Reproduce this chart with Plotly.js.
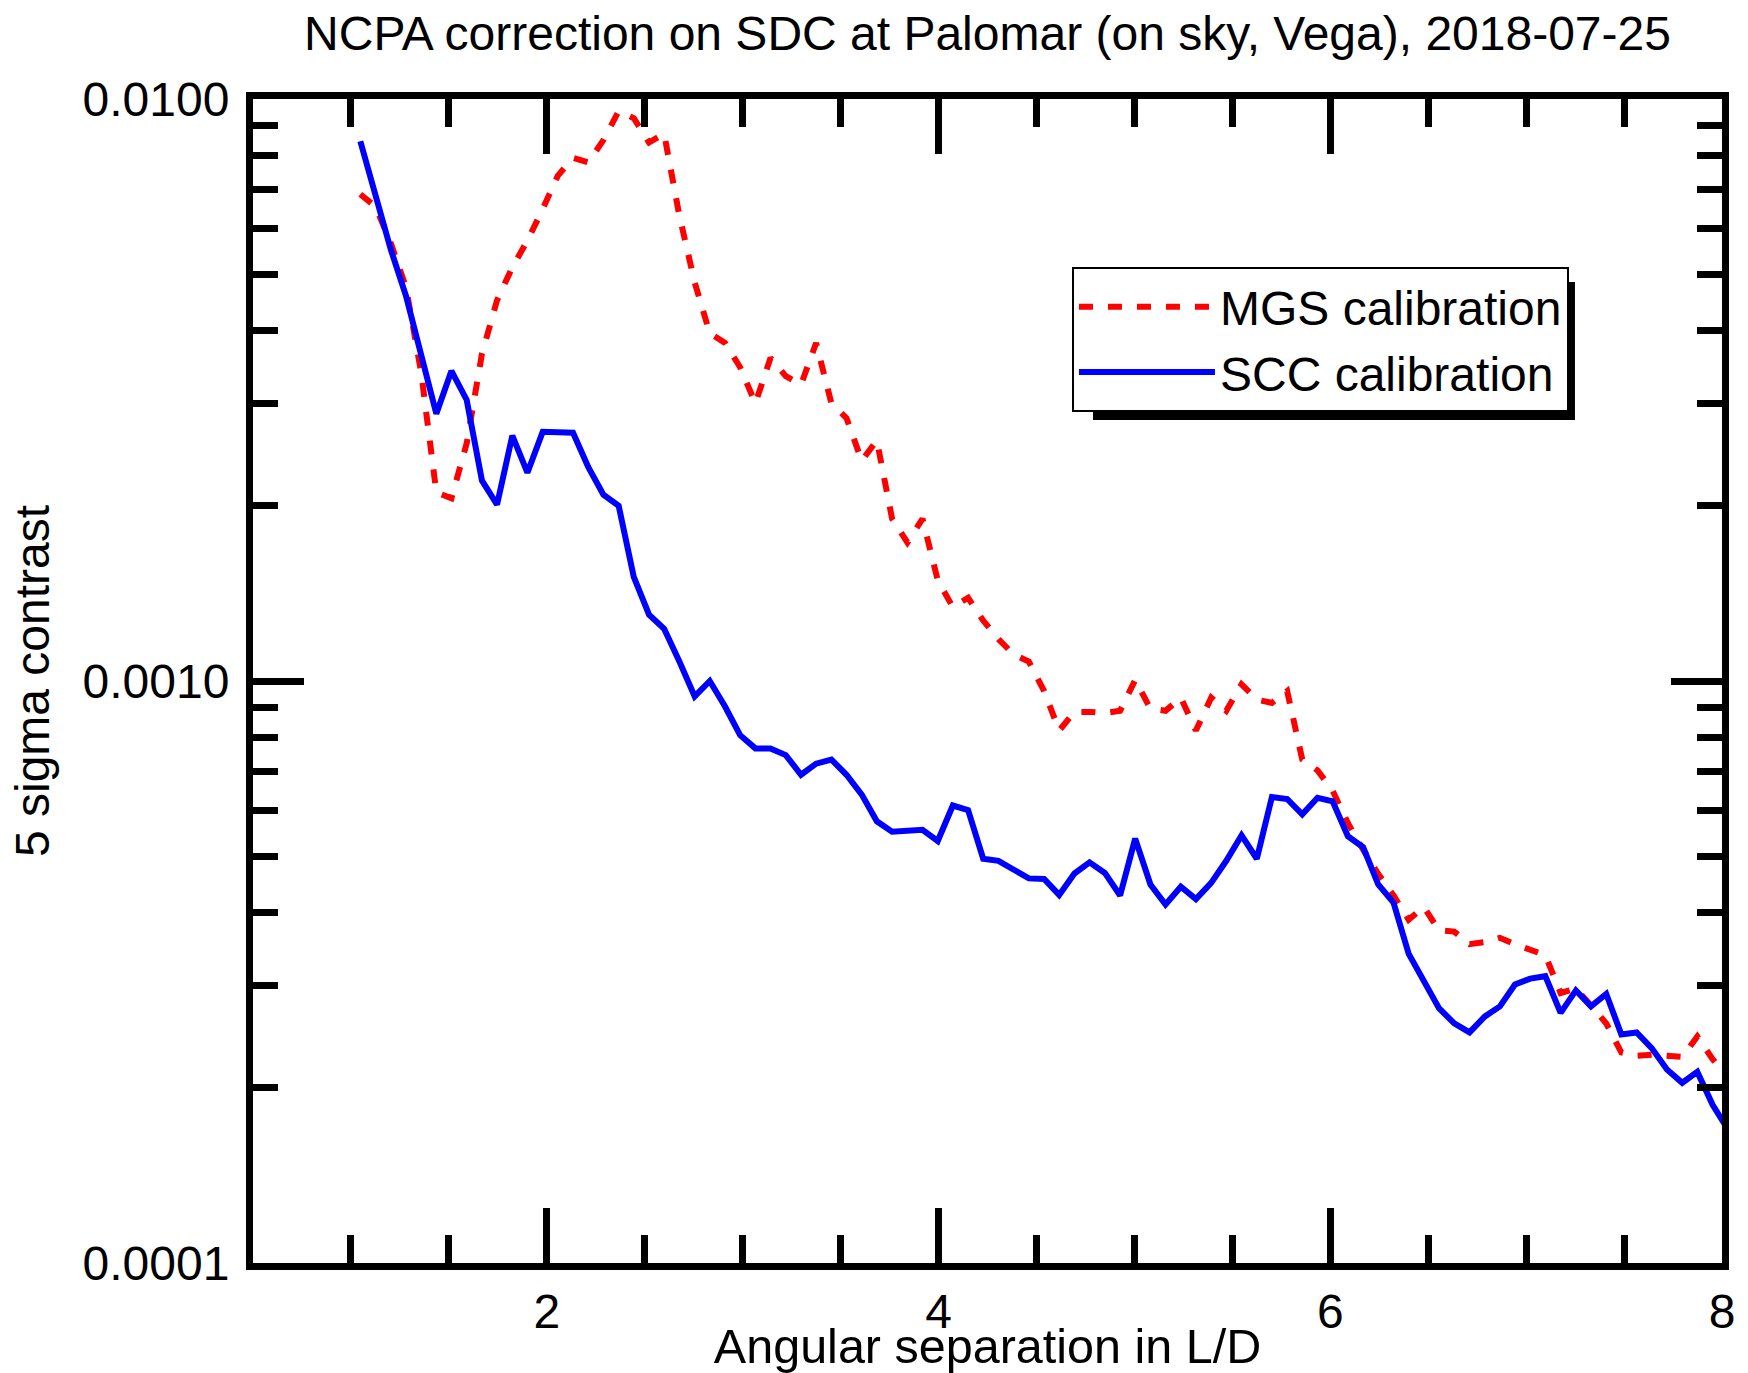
<!DOCTYPE html>
<html>
<head>
<meta charset="utf-8">
<script src="https://cdn.plot.ly/plotly-3.0.1.min.js"></script>
<style>
  html, body { margin: 0; padding: 0; background: white; }
  #chart { width: 1748px; height: 1373px; }
</style>
</head>
<body>
<div id="chart"></div>
<script>
// angular separation (L/D), one value per profile sample
var separation = [
  1.048, 1.126, 1.203, 1.281, 1.358, 1.436, 1.513, 1.591, 1.669, 1.746,
  1.824, 1.901, 1.979, 2.056, 2.134, 2.212, 2.289, 2.367, 2.444, 2.522,
  2.599, 2.677, 2.755, 2.832, 2.910, 2.987, 3.065, 3.142, 3.220, 3.298,
  3.375, 3.453, 3.530, 3.608, 3.685, 3.763, 3.841, 3.918, 3.996, 4.073,
  4.151, 4.228, 4.306, 4.384, 4.461, 4.539, 4.616, 4.694, 4.771, 4.849,
  4.927, 5.004, 5.082, 5.159, 5.237, 5.314, 5.392, 5.469, 5.547, 5.625,
  5.702, 5.780, 5.857, 5.935, 6.012, 6.090, 6.168, 6.245, 6.323, 6.400,
  6.478, 6.555, 6.633, 6.711, 6.788, 6.866, 6.943, 7.021, 7.098, 7.176,
  7.254, 7.331, 7.409, 7.486, 7.564, 7.641, 7.719, 7.797, 7.874, 7.952,
  8.029
];

// 5 sigma contrast, MGS calibration (red dashed)
var mgsContrast = [
  0.00686, 0.00653, 0.00566, 0.00475, 0.00340, 0.00211, 0.00206, 0.00256, 0.00365, 0.00451,
  0.00514, 0.00571, 0.00647, 0.00738, 0.00792, 0.00778, 0.00850, 0.00953, 0.00927, 0.00842,
  0.00872, 0.00630, 0.00484, 0.00396, 0.00381, 0.00346, 0.00300, 0.00359, 0.00334, 0.00323,
  0.00381, 0.00300, 0.00283, 0.00239, 0.00259, 0.00190, 0.00173, 0.00190, 0.00149, 0.00134,
  0.00139, 0.00127, 0.00118, 0.00111, 0.00108, 0.000961, 0.000822, 0.000885, 0.000885, 0.000881,
  0.000889, 0.001004, 0.000896, 0.000889, 0.000936, 0.000822, 0.000936, 0.000889, 0.000987, 0.000929,
  0.000917, 0.000961, 0.000733, 0.000702, 0.000648, 0.000570, 0.000513, 0.000466, 0.000428, 0.000389,
  0.000409, 0.000373, 0.000371, 0.000353, 0.000356, 0.000362, 0.000353, 0.000345, 0.000338, 0.000291,
  0.000296, 0.000277, 0.000258, 0.000230, 0.000227, 0.000228, 0.000227, 0.000226, 0.000245, 0.000224,
  0.000209
];

// 5 sigma contrast, SCC calibration (blue solid)
var sccContrast = [
  0.00846, 0.00688, 0.00552, 0.00459, 0.00365, 0.00288, 0.00341, 0.00304, 0.00221, 0.00201,
  0.00264, 0.00228, 0.00268, 0.00268, 0.00267, 0.00233, 0.00209, 0.00200, 0.00151, 0.00130,
  0.00123, 0.00108, 0.000941, 0.00100, 0.000904, 0.000807, 0.000766, 0.000766, 0.000746, 0.000690,
  0.000721, 0.000733, 0.000690, 0.000638, 0.000574, 0.000551, 0.000553, 0.000555, 0.000531, 0.000611,
  0.000600, 0.000495, 0.000491, 0.000474, 0.000458, 0.000457, 0.000429, 0.000467, 0.000488, 0.000468,
  0.000428, 0.000536, 0.000447, 0.000413, 0.000443, 0.000422, 0.000450, 0.000491, 0.000543, 0.000495,
  0.000632, 0.000627, 0.000590, 0.000630, 0.000621, 0.000541, 0.000518, 0.000447, 0.000416, 0.000340,
  0.000304, 0.000274, 0.000258, 0.000249, 0.000265, 0.000276, 0.000301, 0.000308, 0.000311, 0.000269,
  0.000294, 0.000276, 0.000290, 0.000247, 0.000249, 0.000234, 0.000215, 0.000204, 0.000213, 0.000187,
  0.000170
];

var xMajorTicks = [2, 4, 6, 8];
var xMinorTicks = [1, 1.5, 2.5, 3, 3.5, 4.5, 5, 5.5, 6.5, 7, 7.5];
var yMajorTicks = [0.0001, 0.001, 0.01];
var yMajorLabels = ['0.0001', '0.0010', '0.0100'];
var yMinorTicks = [0.0002, 0.0003, 0.0004, 0.0005, 0.0006, 0.0007, 0.0008, 0.0009,
                   0.002, 0.003, 0.004, 0.005, 0.006, 0.007, 0.008, 0.009];

var FONT = 'Liberation Sans, Arial, Helvetica, sans-serif';
var W = 1748, H = 1373;
var M = { l: 253, r: 26, t: 99, b: 110 };

var traces = [
  {
    x: separation,
    y: mgsContrast,
    type: 'scatter',
    mode: 'lines',
    name: 'MGS calibration',
    line: { color: '#ff0000', width: 6, dash: '14px,15px' }
  },
  {
    x: separation,
    y: sccContrast,
    type: 'scatter',
    mode: 'lines',
    name: 'SCC calibration',
    line: { color: '#0000ff', width: 6 }
  }
];

var layout = {
  width: W,
  height: H,
  margin: M,
  paper_bgcolor: 'white',
  plot_bgcolor: 'white',
  font: { family: FONT, size: 48, color: 'black' },
  title: {
    text: 'NCPA correction on SDC at Palomar (on sky, Vega), 2018-07-25',
    font: { family: FONT, size: 48, color: 'black' },
    x: 0.5,
    xref: 'paper',
    xanchor: 'center',
    y: 0.976,
    yref: 'container',
    yanchor: 'middle'
  },
  xaxis: {
    range: [0.5, 8],
    showgrid: false,
    zeroline: false,
    showline: true,
    linecolor: 'black',
    linewidth: 7,
    mirror: 'ticks',
    ticks: 'inside',
    ticklen: 55,
    tickwidth: 7,
    tickcolor: 'black',
    tickmode: 'array',
    tickvals: xMajorTicks,
    ticktext: xMajorTicks.map(String),
    tickfont: { family: FONT, size: 48, color: 'black' },
    minor: {
      tickmode: 'array',
      tickvals: xMinorTicks,
      ticks: 'inside',
      ticklen: 28,
      tickwidth: 7,
      tickcolor: 'black',
      showgrid: false
    },
    title: {
      text: 'Angular separation in L/D',
      font: { family: FONT, size: 48.5, color: 'black' },
      standoff: 2
    }
  },
  yaxis: {
    type: 'log',
    range: [-4, -2],
    showgrid: false,
    zeroline: false,
    showline: true,
    linecolor: 'black',
    linewidth: 7,
    mirror: 'ticks',
    ticks: 'inside',
    ticklen: 51,
    tickwidth: 7,
    tickcolor: 'black',
    tickmode: 'array',
    tickvals: yMajorTicks,
    ticktext: yMajorLabels,
    tickfont: { family: FONT, size: 48, color: 'black' },
    ticklabelstandoff: 7,
    minor: {
      tickmode: 'array',
      tickvals: yMinorTicks,
      ticks: 'inside',
      ticklen: 25,
      tickwidth: 7,
      tickcolor: 'black',
      showgrid: false
    },
    title: {
      text: '5 sigma contrast',
      font: { family: FONT, size: 48, color: 'black' },
      standoff: 20
    }
  },
  showlegend: true,
  legend: {
    x: 0.5575,
    y: 0.8557,
    xanchor: 'left',
    yanchor: 'top',
    bgcolor: 'white',
    bordercolor: 'black',
    borderwidth: 2,
    itemwidth: 136,
    font: { family: FONT, size: 48, color: 'black' },
    tracegroupgap: 0
  },
  shapes: []
};

var gd = document.getElementById('chart');
Plotly.newPlot(gd, traces, layout, { displayModeBar: false, staticPlot: true }).then(function () {
  // drop shadow under the legend box, sized from the drawn legend
  var bg = gd.querySelector('.legend rect.bg');
  if (!bg) return;
  var box = bg.getBoundingClientRect();
  var root = gd.getBoundingClientRect();
  var pw = W - M.l - M.r, ph = H - M.t - M.b;
  var left = box.left - root.left, right = box.right - root.left;
  var top = box.top - root.top, bottom = box.bottom - root.top;
  var toX = function (px) { return (px - M.l) / pw; };
  var toY = function (py) { return (H - M.b - py) / ph; };
  return Plotly.relayout(gd, {
    shapes: [{
      type: 'rect',
      xref: 'paper', yref: 'paper',
      x0: toX(left + 20), x1: toX(right + 7),
      y0: toY(bottom + 9), y1: toY(top + 14),
      fillcolor: 'black',
      line: { width: 0 },
      layer: 'above'
    }]
  });
});
</script>
</body>
</html>
